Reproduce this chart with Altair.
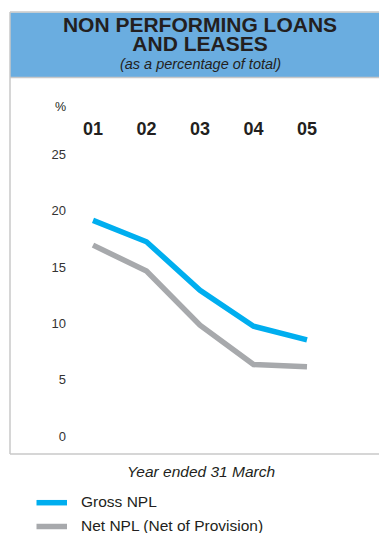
import altair as alt
import pandas as pd

# Fiscal years (year ended 31 March) and NPL ratios, %
years = ["01", "02", "03", "04", "05"]
gross_npl = [19.2, 17.3, 13.0, 9.8, 8.6]
net_npl = [17.0, 14.7, 9.9, 6.4, 6.2]
series_names = ["Gross NPL", "Net NPL (Net of Provision)"]
series_colors = ["#00aeef", "#a7a9ac"]
y_ticks = [0, 5, 10, 15, 20, 25]

FONT = "Liberation Sans"
INK = "#231f20"
FRAME = "#c8c8c8"

lines_df = pd.DataFrame(
    {
        "year": years * 2,
        "value": gross_npl + net_npl,
        "series": [series_names[0]] * len(years) + [series_names[1]] * len(years),
    }
)
ticks_df = pd.DataFrame({"tick": y_ticks, "label": [str(t) for t in y_ticks]})
years_df = pd.DataFrame({"year": years})
one = pd.DataFrame({"k": [0]})

x_scale = alt.Scale(type="point", domain=years, range=[93, 307], padding=0)
y_scale = alt.Scale(domain=[0, 25], range=[436.7, 155], nice=False, zero=False)
color_scale = alt.Scale(domain=series_names, range=series_colors)

# Panel frame and header band
header = alt.Chart(one).mark_rect(color="#6aade0").encode(
    x=alt.value(10), x2=alt.value(380), y=alt.value(12.5), y2=alt.value(77)
)
frame_top = alt.Chart(one).mark_rule(color=FRAME, strokeWidth=1.5).encode(
    x=alt.value(10), x2=alt.value(380), y=alt.value(12)
)
frame_header = alt.Chart(one).mark_rule(color=FRAME, strokeWidth=1.5).encode(
    x=alt.value(10), x2=alt.value(380), y=alt.value(77.5)
)
frame_left = alt.Chart(one).mark_rule(color=FRAME, strokeWidth=1.5).encode(
    x=alt.value(10), y=alt.value(12), y2=alt.value(454)
)
frame_bottom = alt.Chart(one).mark_rule(color=FRAME, strokeWidth=1.5).encode(
    x=alt.value(10), x2=alt.value(380), y=alt.value(454)
)

title_block = alt.Chart(one).mark_text(
    font=FONT, fontSize=21, fontWeight="bold", color=INK, align="center",
    baseline="alphabetic", lineHeight=19,
).encode(
    x=alt.value(200), y=alt.value(32),
    text=alt.value(["NON PERFORMING LOANS", "AND LEASES"]),
)
subtitle = alt.Chart(one).mark_text(
    font=FONT, fontSize=14.5, fontStyle="italic", color=INK, align="center", baseline="alphabetic"
).encode(x=alt.value(200.5), y=alt.value(69), text=alt.value("(as a percentage of total)"))

pct = alt.Chart(one).mark_text(
    font=FONT, fontSize=12.5, color=INK, align="right", baseline="middle"
).encode(x=alt.value(66), y=alt.value(107), text=alt.value("%"))

year_labels = alt.Chart(years_df).mark_text(
    font=FONT, fontSize=18, fontWeight="bold", color=INK, align="center", baseline="middle"
).encode(
    x=alt.X("year:O", scale=x_scale, axis=None),
    y=alt.value(130),
    text="year:N",
)

tick_labels = alt.Chart(ticks_df).mark_text(
    font=FONT, fontSize=13, color="#333333", align="right", baseline="middle"
).encode(
    x=alt.value(66),
    y=alt.Y("tick:Q", scale=y_scale, axis=None),
    text="label:N",
)

lines = alt.Chart(lines_df).mark_line(strokeWidth=5.5, strokeCap="butt", strokeJoin="miter").encode(
    x=alt.X("year:O", scale=x_scale, axis=None),
    y=alt.Y("value:Q", scale=y_scale, axis=None),
    color=alt.Color("series:N", scale=color_scale, legend=None),
    detail="series:N",
)

x_title = alt.Chart(one).mark_text(
    font=FONT, fontSize=15.5, fontStyle="italic", color=INK, align="center", baseline="alphabetic"
).encode(x=alt.value(201), y=alt.value(477), text=alt.value("Year ended 31 March"))

# Legend entries
legend_layers = []
for name, col, yy in zip(series_names, series_colors, [502.7, 526.5]):
    legend_layers.append(
        alt.Chart(one).mark_rule(color=col, strokeWidth=5.5).encode(
            x=alt.value(36.5), x2=alt.value(67), y=alt.value(yy)
        )
    )
    legend_layers.append(
        alt.Chart(one).mark_text(
            font=FONT, fontSize=15.5, color=INK, align="left", baseline="middle"
        ).encode(x=alt.value(81), y=alt.value(yy - 0.5), text=alt.value(name))
    )

chart = (
    alt.layer(
        header, frame_top, frame_header, frame_left, frame_bottom,
        title_block, subtitle, pct, year_labels, tick_labels, lines, x_title,
        *legend_layers,
    )
    .properties(width=379, height=533, autosize=alt.AutoSizeParams(type="none"), padding=0, background="white")
    .configure_view(stroke=None)
)

chart.save("out.html", embed_options={"renderer": "svg", "actions": False})
